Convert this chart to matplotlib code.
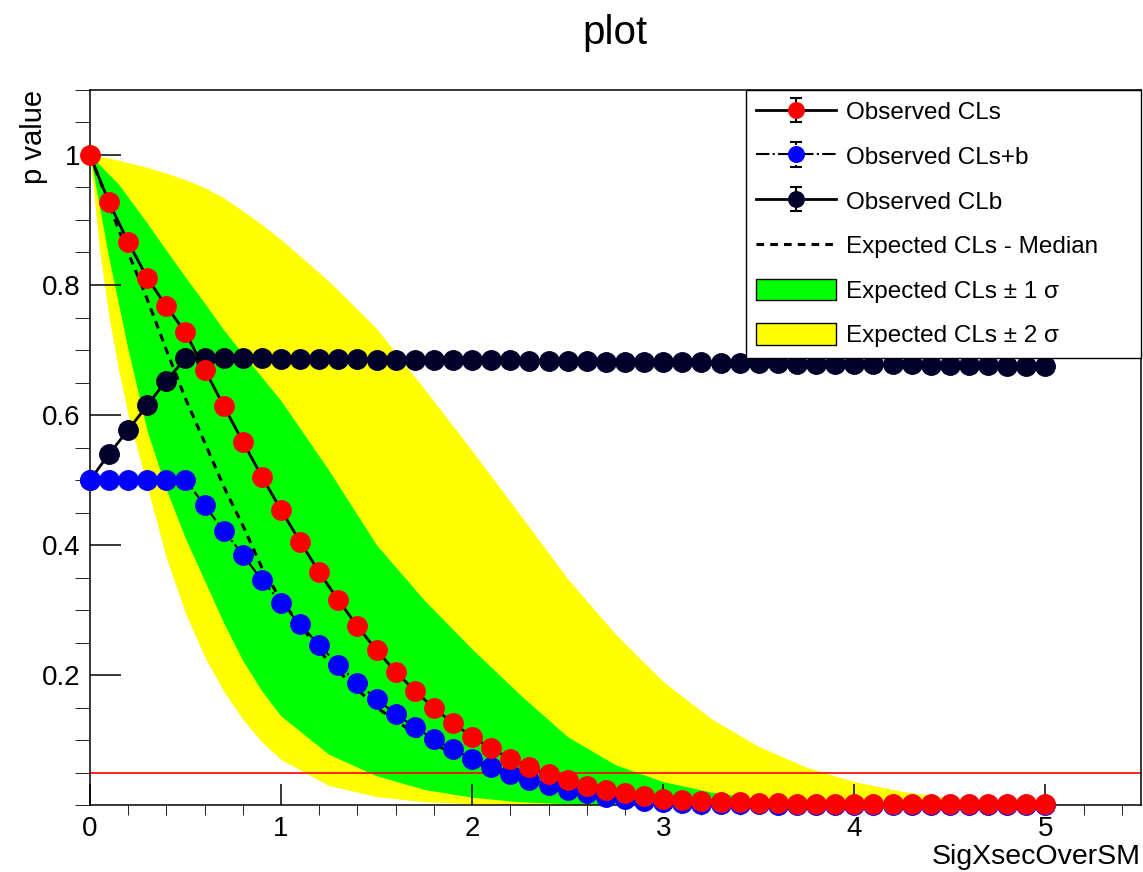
import numpy as np
import matplotlib
matplotlib.use("Agg")
import matplotlib.pyplot as plt
from matplotlib.patches import Patch
from matplotlib.ticker import MultipleLocator

plt.rcParams['font.family'] = ['Liberation Sans', 'DejaVu Sans']

# scan points (SigXsecOverSM)
x_pts = np.round(np.arange(0, 5.01, 0.1), 1)

cls_obs = [1.000, 0.927, 0.866, 0.811, 0.767, 0.727, 0.670, 0.614, 0.559, 0.505,
           0.454, 0.405, 0.358, 0.315, 0.275, 0.238, 0.205, 0.176, 0.149, 0.126,
           0.105, 0.087, 0.071, 0.058, 0.047, 0.038, 0.029, 0.023, 0.018, 0.014,
           0.010, 0.008, 0.006, 0.005, 0.004, 0.003, 0.003, 0.002, 0.002, 0.002,
           0.001, 0.001, 0.001, 0.001, 0.001, 0.001, 0.001, 0.001, 0.001, 0.001,
           0.001]

clsb_obs = [0.500, 0.500, 0.500, 0.500, 0.500, 0.500, 0.461, 0.422, 0.385, 0.346,
            0.311, 0.278, 0.246, 0.215, 0.188, 0.163, 0.140, 0.120, 0.101, 0.086,
            0.071, 0.059, 0.048, 0.039, 0.031, 0.023, 0.018, 0.013, 0.009, 0.006,
            0.004, 0.003, 0.002, 0.002, 0.001, 0.001, 0.000, 0.000, 0.000, 0.000,
            0.000, 0.000, 0.000, 0.000, 0.000, 0.000, 0.000, 0.000, 0.000, 0.000,
            0.000]

clb_obs = [0.500, 0.540, 0.577, 0.615, 0.653, 0.687, 0.687, 0.687, 0.687, 0.687,
           0.686, 0.686, 0.686, 0.686, 0.686, 0.685, 0.685, 0.685, 0.685, 0.684,
           0.684, 0.684, 0.684, 0.683, 0.683, 0.683, 0.683, 0.682, 0.682, 0.682,
           0.681, 0.681, 0.681, 0.680, 0.680, 0.680, 0.680, 0.679, 0.679, 0.679,
           0.678, 0.678, 0.678, 0.678, 0.677, 0.677, 0.677, 0.677, 0.676, 0.676,
           0.676]

# expected bands
band_x = [0, 0.05, 0.1, 0.15, 0.2, 0.3, 0.4, 0.5, 0.6, 0.7, 0.8, 0.9, 1.0,
          1.25, 1.5, 1.75, 2.0, 2.25, 2.5, 2.75, 3.0, 3.25, 3.5, 3.75, 4.0,
          4.25, 4.5, 4.75, 5.0]
exp_minus2 = [1.0, 0.855, 0.75, 0.67, 0.60, 0.49, 0.38, 0.295, 0.228, 0.175, 0.132, 0.097, 0.070,
              0.030, 0.013, 0.005, 0.002, 0.001, 0, 0, 0, 0, 0, 0, 0, 0, 0, 0, 0]
exp_minus1 = [1.0, 0.92, 0.84, 0.77, 0.70, 0.575, 0.485, 0.41, 0.345, 0.28, 0.222, 0.175, 0.137,
              0.078, 0.045, 0.024, 0.012, 0.005, 0.002, 0.001, 0, 0, 0, 0, 0, 0, 0, 0, 0]
exp_median = [1.0, 0.962, 0.925, 0.885, 0.85, 0.778, 0.70, 0.625, 0.558, 0.49, 0.43, 0.365, 0.315,
              0.22, 0.15, 0.10, 0.067, 0.04, 0.02, 0.008, 0.003, 0.001, 0, 0, 0, 0, 0, 0, 0]
exp_plus1 = [1.0, 0.985, 0.97, 0.955, 0.935, 0.895, 0.853, 0.812, 0.772, 0.731, 0.694, 0.658, 0.622,
             0.515, 0.40, 0.315, 0.24, 0.17, 0.105, 0.062, 0.036, 0.020, 0.010, 0.005, 0.003,
             0.002, 0.001, 0.0, 0.0]
exp_plus2 = [1.0, 0.998, 0.995, 0.992, 0.988, 0.981, 0.972, 0.962, 0.95, 0.934, 0.914, 0.893, 0.87,
             0.806, 0.733, 0.64, 0.545, 0.447, 0.348, 0.263, 0.190, 0.133, 0.090, 0.058, 0.036,
             0.021, 0.011, 0.005, 0.002]

cl_level = 0.05

fig = plt.figure(figsize=(11.43, 8.72), dpi=100)
ax = fig.add_axes([0.0787, 0.0768, 0.9195, 0.82])
ax.set_axisbelow(False)

ax.fill_between(band_x, exp_minus2, exp_plus2, color='#ffff00', lw=0, zorder=1)
ax.fill_between(band_x, exp_minus1, exp_plus1, color='#00ff00', lw=0, zorder=1.1)
med_line, = ax.plot(band_x, exp_median, color='black', ls='--', lw=2.2, dashes=(2.5, 2), zorder=2)
ax.axhline(cl_level, color='red', lw=1.2, zorder=2.2)

zeros = np.zeros(len(x_pts))


def draw_series(y, mcolor, ls, lw, z):
    cont = ax.errorbar(x_pts, y, yerr=zeros, fmt='o', ls=ls, color='black', lw=lw,
                       mfc=mcolor, mec=mcolor, ms=14, ecolor='black', elinewidth=1.5,
                       capsize=4, capthick=1.5, zorder=z)
    data_line, caps, bars = cont.lines
    for c in caps:
        c.set_zorder(z - 0.5)
    for a in [data_line, *caps, *bars]:
        a.set_clip_on(False)
    return cont


h_clb = draw_series(clb_obs, '#00002a', '-', 2, 3)
h_clsb = draw_series(clsb_obs, '#0000ff', '-.', 1.5, 4)
h_clsb.lines[2][0].set_linestyle(':')
h_cls = draw_series(cls_obs, '#ff0000', '-', 2, 5)

ax.set_xlim(0, 5.5)
ax.set_ylim(0, 1.1)
ax.set_xticks([0, 1, 2, 3, 4, 5], ['0', '1', '2', '3', '4', '5'])
ax.xaxis.set_minor_locator(MultipleLocator(0.2))
ax.set_yticks([0.2, 0.4, 0.6, 0.8, 1.0], ['0.2', '0.4', '0.6', '0.8', '1'])
ax.yaxis.set_minor_locator(MultipleLocator(0.05))
ax.tick_params(direction='in', top=False, right=False, labelsize=20, width=1.1)
ax.tick_params(axis='x', which='major', length=15, pad=8)
ax.tick_params(axis='x', which='minor', length=7.5)
ax.tick_params(axis='y', which='major', length=22, pad=7)
ax.tick_params(axis='y', which='minor', length=11)
for s in ax.spines.values():
    s.set_linewidth(1.1)

ax.set_xlabel('SigXsecOverSM', loc='right', fontsize=20.5, labelpad=1)
ax.set_ylabel('p value', loc='top', fontsize=21)
ax.yaxis.set_label_coords(-0.040, 1.0)
fig.text(0.538, 0.962, 'plot', ha='center', va='center', fontsize=29)

handles = [h_cls, h_clsb, h_clb, med_line,
           Patch(facecolor='#00ff00', edgecolor='black', lw=1),
           Patch(facecolor='#ffff00', edgecolor='black', lw=1)]
labels = ['Observed CLs', 'Observed CLs+b', 'Observed CLb', 'Expected CLs - Median',
          'Expected CLs \u00b1 1 \u03c3', 'Expected CLs \u00b1 2 \u03c3']
leg = ax.legend(handles, labels, loc='upper left', bbox_to_anchor=(0.624, 0, 0.376, 1.0),
                mode='expand', borderaxespad=0, fancybox=False, edgecolor='black',
                framealpha=1, fontsize=17.5, markerscale=0.8, handlelength=3.3,
                handleheight=1.0, labelspacing=0.84, handletextpad=0.42, borderpad=0.42)
leg.get_frame().set_linewidth(1.0)
leg.set_zorder(10)

fig.savefig('out.png', dpi=100)
